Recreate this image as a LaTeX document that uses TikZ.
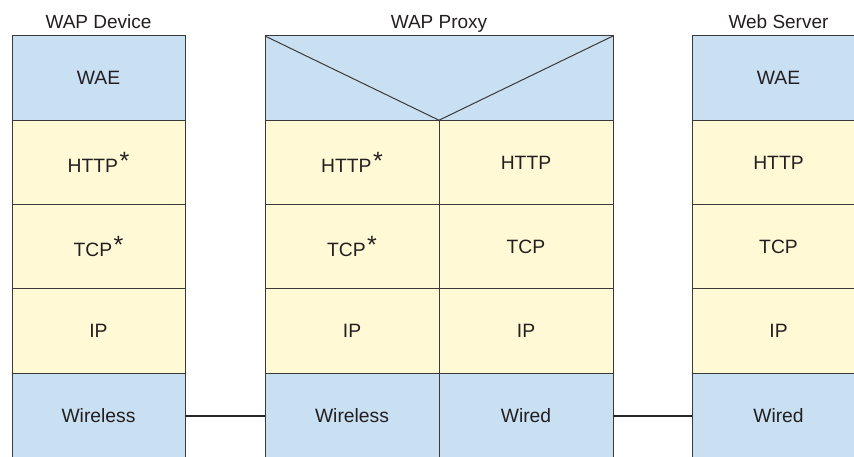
\documentclass[tikz,border=0pt]{standalone}
\usepackage{fontspec}
\setmainfont{Liberation Sans}
\usetikzlibrary{positioning}
\definecolor{layerBlue}{HTML}{C9DFF2}
\definecolor{layerYellow}{HTML}{FFF9D6}
\definecolor{edgeGray}{HTML}{3A3A3A}
\definecolor{txtGray}{HTML}{231F20}

% raised asterisk for the modified protocols
\newcommand{\wapstar}{\kern1.5pt\raisebox{3pt}{\fontsize{25}{25}\selectfont *}}

\begin{document}
\begin{tikzpicture}[x=1pt, y=-1pt,
      cell/.style={rectangle, draw=edgeGray, line width=1pt, inner sep=0pt,
                   outer sep=0pt, minimum width=173pt, minimum height=84.25pt,
                   text=txtGray, font=\fontsize{19.3}{22}\selectfont},
      half/.style={cell, minimum width=174pt},
      wirecell/.style={fill=layerBlue},
      netcell/.style={fill=layerYellow},
      title/.style={anchor=base, text=txtGray, inner sep=0pt,
                    font=\fontsize{19}{22}\selectfont},
      link/.style={draw=black!85, line width=1.3pt}]
    \clip (0,0) rectangle (854,456);

    % device stack
    \node[title] (dev-title) at (98.5,28) {WAP Device};
    \node[cell, wirecell] (dev-wae)  at (98.5,78.1)  {WAE};
    \node[cell, netcell]  (dev-http) at (98.5,162.4) {HTTP\wapstar};
    \node[cell, netcell]  (dev-tcp)  at (98.5,246.6) {TCP\wapstar};
    \node[cell, netcell]  (dev-ip)   at (98.5,330.9) {IP};
    \node[cell, wirecell, minimum height=86pt] (dev-wl) at (98.5,416) {Wireless};

    % proxy: two half stacks under one top box
    \node[title] (px-title) at (439,28) {WAP Proxy};
    \node[cell, wirecell, minimum width=348pt] (px-top) at (439,78.1) {};
    \draw[draw=edgeGray, line width=1pt]
      (px-top.north west) -- (px-top.south) -- (px-top.north east);

    \node[half, netcell]  (pxa-http) at (352,162.4) {HTTP\wapstar};
    \node[half, netcell]  (pxa-tcp)  at (352,246.6) {TCP\wapstar};
    \node[half, netcell]  (pxa-ip)   at (352,330.9) {IP};
    \node[half, wirecell, minimum height=86pt] (pxa-wl) at (352,416) {Wireless};

    \node[half, netcell]  (pxb-http) at (526,162.4) {HTTP};
    \node[half, netcell]  (pxb-tcp)  at (526,246.6) {TCP};
    \node[half, netcell]  (pxb-ip)   at (526,330.9) {IP};
    \node[half, wirecell, minimum height=86pt] (pxb-wd) at (526,416) {Wired};

    % server stack
    \node[title] (srv-title) at (778.5,28) {Web Server};
    \node[cell, wirecell] (srv-wae)  at (778.5,78.1)  {WAE};
    \node[cell, netcell]  (srv-http) at (778.5,162.4) {HTTP};
    \node[cell, netcell]  (srv-tcp)  at (778.5,246.6) {TCP};
    \node[cell, netcell]  (srv-ip)   at (778.5,330.9) {IP};
    \node[cell, wirecell, minimum height=86pt] (srv-wd) at (778.5,416) {Wired};

    % physical links
    \draw[link] (dev-wl.east) -- (pxa-wl.west);
    \draw[link] (pxb-wd.east) -- (srv-wd.west);
\end{tikzpicture}
\end{document}
